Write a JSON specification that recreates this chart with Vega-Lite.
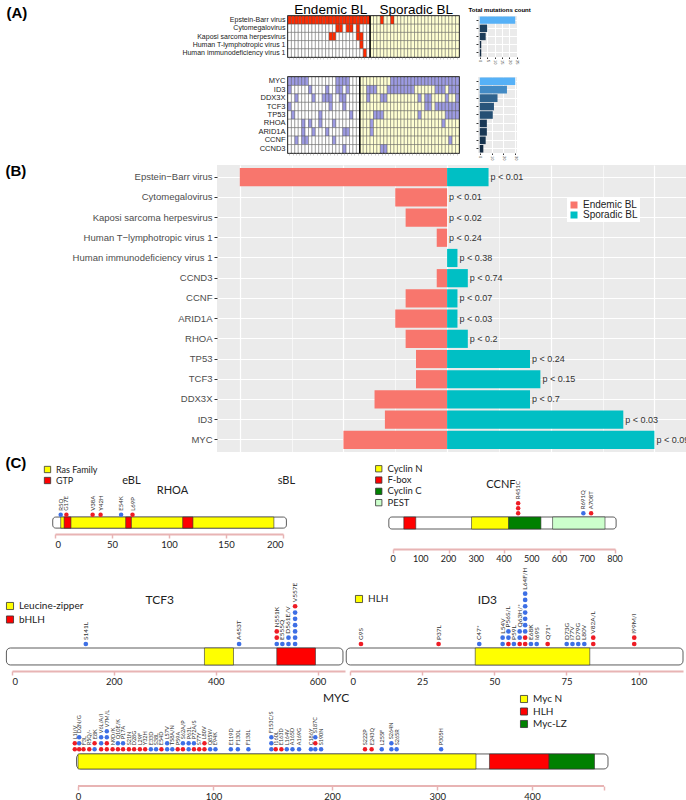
{
"$schema":"https://vega.github.io/schema/vega-lite/v6.json",
"padding":{"left":4,"top":1,"right":0,"bottom":0},
"background":"white",
"datasets":{
"virus":[
{"row":"Epstein-Barr virus","count":24,"cells":["m","m","m","m","m","m","m","m","m","m","m","m","m","m","m","m","m","m","m","m","m","m","m","m","s","s","s","m","s","s","m","s","s","s","s","s","s","s","s","s","s","s","s","s","s","s","s","s","s","s"]},
{"row":"Cytomegalovirus","count":5,"cells":["e","e","e","e","e","e","e","e","e","e","e","e","e","e","m","m","e","m","m","e","m","e","e","e","s","s","s","s","s","s","s","s","s","s","s","s","s","s","s","s","s","s","s","s","s","s","s","s","s","s"]},
{"row":"Kaposi sarcoma herpesvirus","count":4,"cells":["e","e","e","e","e","e","e","e","e","e","e","e","m","m","e","e","e","e","e","e","m","m","e","e","s","s","s","s","s","s","s","s","s","s","s","s","s","s","s","s","s","s","s","s","s","s","s","s","s","s"]},
{"row":"Human T-lymphotropic virus 1","count":1,"cells":["e","e","e","e","e","e","e","e","e","e","e","e","e","e","e","e","e","e","e","e","e","m","e","e","s","s","s","s","s","s","s","s","s","s","s","s","s","s","s","s","s","s","s","s","s","s","s","s","s","s"]},
{"row":"Human immunodeficiency virus 1","count":1,"cells":["e","e","e","e","e","e","e","e","e","e","e","e","e","e","e","e","e","e","e","e","e","e","m","e","s","s","s","s","s","s","s","s","s","s","s","s","s","s","s","s","s","s","s","s","s","s","s","s","s","s"]}],
"genes":[
{"row":"MYC","count":30,"cells":["m","m","m","m","m","m","e","e","e","e","e","e","e","e","m","m","m","m","e","e","e","s","s","s","s","s","s","s","s","s","m","m","m","m","m","m","m","m","m","m","m","m","m","m","m","m","m","m","m","m"]},
{"row":"ID3","count":23,"cells":["m","e","e","e","e","e","m","e","e","e","e","m","e","e","m","m","e","m","e","e","e","s","s","m","m","m","s","s","s","m","m","m","m","m","m","m","m","s","s","s","s","s","s","m","m","m","s","m","m","m"]},
{"row":"DDX3X","count":15,"cells":["e","e","m","e","e","e","e","m","e","e","m","m","m","e","e","m","m","e","e","e","e","s","s","m","s","s","s","m","m","s","s","s","s","s","s","s","s","s","m","s","m","m","s","s","s","s","m","s","s","m"]},
{"row":"TCF3","count":12,"cells":["m","e","e","e","e","e","e","e","e","e","e","e","m","e","e","e","m","e","e","e","e","s","s","s","s","s","s","s","s","s","s","s","s","s","s","s","s","s","s","s","m","m","s","m","m","m","m","m","m","m"]},
{"row":"TP53","count":11,"cells":["e","m","e","e","e","e","e","e","e","m","e","e","e","e","e","e","e","e","m","e","e","s","s","s","s","m","m","m","s","s","s","s","s","s","s","s","s","s","m","s","s","s","s","s","s","s","m","m","m","m"]},
{"row":"RHOA","count":6,"cells":["e","e","e","e","m","e","m","e","e","m","e","e","e","m","e","e","e","e","e","e","e","s","s","s","m","s","s","s","s","s","s","s","s","s","s","s","s","s","s","s","s","s","s","s","s","m","s","s","s","s"]},
{"row":"ARID1A","count":6,"cells":["e","e","e","e","m","e","e","m","e","e","e","m","e","e","e","e","m","m","e","e","e","s","s","s","m","s","s","s","s","s","s","s","s","s","s","s","s","s","s","s","s","s","s","s","s","s","s","s","s","s"]},
{"row":"CCNF","count":5,"cells":["e","e","m","e","m","m","e","e","e","e","e","e","e","m","e","e","e","e","e","e","e","s","s","s","s","s","s","s","s","s","s","s","s","s","s","s","s","s","s","s","s","s","s","s","s","s","s","m","s","s"]},
{"row":"CCND3","count":3,"cells":["e","e","e","e","e","e","e","e","e","e","e","e","e","e","e","e","m","e","e","e","e","s","s","s","s","s","s","m","m","s","s","s","s","s","s","s","s","s","s","s","s","s","s","s","s","s","s","s","s","s"]}],
"freq":[
{"name":"Epstein−Barr virus","Endemic BL":-20,"Sporadic BL":4,"p":"p < 0.01"},
{"name":"Cytomegalovirus","Endemic BL":-5,"Sporadic BL":0,"p":"p < 0.01"},
{"name":"Kaposi sarcoma herpesvirus","Endemic BL":-4,"Sporadic BL":0,"p":"p < 0.02"},
{"name":"Human T−lymphotropic virus 1","Endemic BL":-1,"Sporadic BL":0,"p":"p < 0.24"},
{"name":"Human immunodeficiency virus 1","Endemic BL":0,"Sporadic BL":1,"p":"p < 0.38"},
{"name":"CCND3","Endemic BL":-1,"Sporadic BL":2,"p":"p < 0.74"},
{"name":"CCNF","Endemic BL":-4,"Sporadic BL":1,"p":"p < 0.07"},
{"name":"ARID1A","Endemic BL":-5,"Sporadic BL":1,"p":"p < 0.03"},
{"name":"RHOA","Endemic BL":-4,"Sporadic BL":2,"p":"p < 0.2"},
{"name":"TP53","Endemic BL":-3,"Sporadic BL":8,"p":"p < 0.24"},
{"name":"TCF3","Endemic BL":-3,"Sporadic BL":9,"p":"p < 0.15"},
{"name":"DDX3X","Endemic BL":-7,"Sporadic BL":8,"p":"p < 0.7"},
{"name":"ID3","Endemic BL":-6,"Sporadic BL":17,"p":"p < 0.03"},
{"name":"MYC","Endemic BL":-10,"Sporadic BL":20,"p":"p < 0.09"}],
"rhoaBackbone":[{"start":-2,"end":203}],
"rhoaDomains":[{"domain":"Ras Family","start":5,"end":192},{"domain":"GTP","start":8,"end":14},{"domain":"GTP","start":62,"end":67},{"domain":"GTP","start":112,"end":121}],
"rhoaMuts":[
{"mut":"R5Q","pos":5,"dots":["sBL"]},
{"mut":"G17E","pos":10,"dots":["eBL"]},
{"mut":"V38A","pos":33,"dots":["eBL"]},
{"mut":"Y42H","pos":40,"dots":["eBL"]},
{"mut":"E54K","pos":58,"dots":["sBL"]},
{"mut":"L69P","pos":68,"dots":["eBL"]}],
"ccnfBackbone":[{"start":-15,"end":804}],
"ccnfTicks":[{"aa":0},{"aa":100},{"aa":200},{"aa":300},{"aa":400},{"aa":500},{"aa":600},{"aa":700},{"aa":800}],
"ccnfDomains":[{"domain":"F-box","start":39,"end":82},{"domain":"Cyclin N","start":283,"end":417},{"domain":"Cyclin C","start":417,"end":533},{"domain":"PEST","start":575,"end":764}],
"ccnfMuts":[
{"mut":"R451C","pos":451,"dots":["eBL","eBL","eBL"]},
{"mut":"R691Q","pos":686,"dots":["sBL"]},
{"mut":"A708T","pos":714,"dots":["eBL"]}],
"tcf3Backbone":[{"start":-11,"end":650}],
"tcf3Domains":[{"domain":"Leucine-zipper","start":378,"end":435},{"domain":"bHLH","start":520,"end":596}],
"tcf3Muts":[
{"mut":"S141L","pos":145,"dots":["sBL"]},
{"mut":"A453T","pos":446,"dots":["sBL"]},
{"mut":"N551K","pos":520,"dots":["sBL","eBL","eBL"]},
{"mut":"E555Q","pos":531,"dots":["sBL"]},
{"mut":"D561E/V","pos":543,"dots":["sBL","sBL"]},
{"mut":"V557E","pos":556,"dots":["sBL","sBL","sBL","sBL","sBL","sBL","eBL"]}],
"id3Backbone":[{"start":-1.3,"end":115.4}],
"id3Domains":[{"domain":"HLH","start":43.4,"end":83.1}],
"id3Muts":[
{"mut":"G9S","pos":3.8,"dots":["eBL"]},
{"mut":"P37L","pos":30.7,"dots":["eBL"]},
{"mut":"C47*","pos":44.8,"dots":["sBL"]},
{"mut":"L54V","pos":52.9,"dots":["sBL","sBL"]},
{"mut":"P56S/L","pos":54.9,"dots":["eBL","sBL","sBL"]},
{"mut":"P59L","pos":56.8,"dots":["sBL"]},
{"mut":"Q63H/*","pos":58.8,"dots":["eBL","sBL","sBL"]},
{"mut":"L64F/H","pos":60.7,"dots":["eBL","eBL","sBL","sBL","sBL","sBL","sBL","sBL","sBL"]},
{"mut":"E68K","pos":62.7,"dots":["sBL"]},
{"mut":"I69S","pos":64.7,"dots":["sBL"]},
{"mut":"Q71*","pos":68.5,"dots":["eBL"]},
{"mut":"D73G","pos":75.1,"dots":["sBL"]},
{"mut":"I77V","pos":77.1,"dots":["sBL"]},
{"mut":"D79G","pos":79.1,"dots":["sBL"]},
{"mut":"L80V","pos":81.2,"dots":["sBL"]},
{"mut":"V82A/L","pos":84.3,"dots":["eBL","eBL"]},
{"mut":"I99M/I","pos":98.5,"dots":["eBL","eBL"]}],
"mycBackbone":[{"start":-1,"end":487.8}],
"mycDomains":[{"domain":"Myc N","start":0,"end":339.7},{"domain":"HLH","start":353.9,"end":419.1},{"domain":"Myc-LZ","start":419.1,"end":471.7}],
"mycMuts":[
{"mut":"L1I/V","pos":-2.2,"dots":["eBL","eBL"]},
{"mut":"D2N/G","pos":0.8,"dots":["eBL","sBL","sBL"]},
{"mut":"F3L","pos":3.8,"dots":["eBL"]},
{"mut":"R5Q/-","pos":7.8,"dots":["eBL"]},
{"mut":"E8K","pos":11.5,"dots":["sBL","eBL"]},
{"mut":"V6L/A/I","pos":16.1,"dots":["eBL","sBL","sBL"]},
{"mut":"V7M/L","pos":20.1,"dots":["eBL","eBL","sBL","sBL"]},
{"mut":"N9D/K","pos":24.2,"dots":["eBL"]},
{"mut":"Q10E/K","pos":28.0,"dots":["eBL","sBL"]},
{"mut":"P17A","pos":31.7,"dots":["eBL","sBL"]},
{"mut":"S21N","pos":35.9,"dots":["eBL"]},
{"mut":"D28G","pos":39.7,"dots":["eBL"]},
{"mut":"L29F","pos":43.9,"dots":["eBL"]},
{"mut":"Y32H","pos":47.8,"dots":["eBL"]},
{"mut":"E33D","pos":52.0,"dots":["sBL"]},
{"mut":"S38L","pos":55.9,"dots":["sBL"]},
{"mut":"E54D","pos":59.9,"dots":["eBL"]},
{"mut":"L57V","pos":64.2,"dots":["sBL","sBL"]},
{"mut":"T58A/N","pos":68.1,"dots":["sBL"]},
{"mut":"P59A","pos":72.2,"dots":["eBL"]},
{"mut":"S62A/P","pos":76.2,"dots":["eBL","sBL"]},
{"mut":"P63L","pos":80.6,"dots":["sBL","sBL"]},
{"mut":"P72A/S","pos":84.7,"dots":["eBL","sBL"]},
{"mut":"S77Y","pos":88.8,"dots":["eBL"]},
{"mut":"L80V","pos":92.9,"dots":["eBL","eBL"]},
{"mut":"Q85W","pos":97.4,"dots":["sBL"]},
{"mut":"E94K","pos":101.6,"dots":["sBL"]},
{"mut":"E119D","pos":113.9,"dots":["sBL"]},
{"mut":"F130L","pos":119.6,"dots":["sBL"]},
{"mut":"F138L","pos":128.2,"dots":["sBL"]},
{"mut":"F153C/S","pos":147.3,"dots":["sBL","sBL","sBL"]},
{"mut":"I160L","pos":151.0,"dots":["eBL"]},
{"mut":"E163D","pos":155.8,"dots":["eBL"]},
{"mut":"L164V","pos":160.4,"dots":["sBL"]},
{"mut":"A165D","pos":165.3,"dots":["sBL"]},
{"mut":"A169G","pos":171.0,"dots":["sBL"]},
{"mut":"C186Y","pos":181.3,"dots":["sBL"]},
{"mut":"S187C","pos":185.2,"dots":["sBL","eBL","sBL"]},
{"mut":"S190N","pos":190.3,"dots":["sBL"]},
{"mut":"S222P","pos":230.2,"dots":["eBL"]},
{"mut":"E243Q","pos":236.4,"dots":["eBL"]},
{"mut":"L255F","pos":245.9,"dots":["sBL"]},
{"mut":"S264N","pos":255.1,"dots":["sBL","sBL"]},
{"mut":"S265R","pos":260.1,"dots":["sBL"]},
{"mut":"P305H","pos":303.9,"dots":["sBL"]}]
},
"concat":[
{"concat":[
{"width":1,"height":1,"data":{"values":[]},"mark":"point"},
{
"concat":[
{
"width":171,"height":41,
"view":{"stroke":"#000000","strokeWidth":1.5},
"data":{"name":"virus"},
"layer":[
{"transform":[{"flatten":["cells"],"as":["status"]},{"window":[{"op":"row_number","as":"sample"}],"groupby":["row"]}],
"mark":{"type":"rect","stroke":"#4a4a4a","strokeWidth":0.4},
"encoding":{
"x":{"field":"sample","type":"ordinal","scale":{"domain":[1,2,3,4,5,6,7,8,9,10,11,12,13,14,15,16,17,18,19,20,21,22,23,24,25,26,27,28,29,30,31,32,33,34,35,36,37,38,39,40,41,42,43,44,45,46,47,48,49,50],"paddingInner":0,"paddingOuter":0},
"axis":{"orient":"bottom","labels":false,"ticks":true,"tickSize":2,"tickColor":"#999999","tickWidth":0.5,"domain":false,"grid":false,"title":null}},
"y":{"field":"row","type":"nominal","scale":{"domain":["Epstein-Barr virus","Cytomegalovirus","Kaposi sarcoma herpesvirus","Human T-lymphotropic virus 1","Human immunodeficiency virus 1"],"paddingInner":0,"paddingOuter":0},
"axis":{"ticks":false,"domain":false,"grid":false,"labelFontSize":7,"labelColor":"#222222","labelPadding":3,"title":"(A)","titleAngle":0,"titleAlign":"left","titleBaseline":"top","titleFontSize":15,"titleFontWeight":"bold","titleColor":"#000000","titleX":-282,"titleY":-11}},
"color":{"field":"status","type":"nominal","scale":{"domain":["e","s","m"],"range":["#ffffff","#ffffd2","#ff2a00"]},"legend":null}}},
{"data":{"values":[{"divider":25}]},"mark":{"type":"rule","color":"#000000","strokeWidth":1.5},
"encoding":{"x":{"field":"divider","type":"ordinal","bandPosition":0,
"axis":{"orient":"top","values":[13,38],"labelExpr":"datum.value < 25 ? 'Endemic BL' : 'Sporadic BL'","labelAngle":0,"ticks":false,"domain":false,"grid":false,"labelFontSize":13.5,"labelColor":"#000000","labelPadding":0,"title":null}}}}
],
"resolve":{"axis":{"x":"independent"}}
},
{
"width":39,"height":41,"data":{"name":"virus"},
"view":{"fill":"#ebebeb"},
"title":{"text":"Total mutations count","fontSize":6,"fontWeight":"bold","anchor":"start","offset":3,"dx":-7,"color":"#000000"},
"mark":{"type":"bar"},
"encoding":{
"y":{"field":"row","type":"nominal","sort":null,"scale":{"paddingInner":0.1,"paddingOuter":0.05},"axis":{"labels":false,"ticks":true,"tickSize":2,"tickColor":"#333333","domain":false,"grid":true,"gridColor":"#ffffff","title":null}},
"x":{"field":"count","type":"quantitative","scale":{"domain":[-1.2,25.2],"nice":false,"zero":false},"axis":{"values":[0,5,10,15,20,25],"labelAngle":90,"labelFontSize":4,"labelColor":"#444444","tickSize":1.5,"tickColor":"#333333","labelPadding":1,"grid":true,"gridColor":"#ffffff","domain":false,"title":null}},
"color":{"field":"count","type":"quantitative","scale":{"range":["#132b43","#56b1f7"],"interpolate":"lab"},"legend":null}}
},
{
"width":171,"height":76,
"view":{"stroke":"#000000","strokeWidth":1.5},
"data":{"name":"genes"},
"layer":[
{"transform":[{"flatten":["cells"],"as":["status"]},{"window":[{"op":"row_number","as":"sample"}],"groupby":["row"]}],
"mark":{"type":"rect","stroke":"#4a4a4a","strokeWidth":0.4},
"encoding":{
"x":{"field":"sample","type":"ordinal","scale":{"domain":[1,2,3,4,5,6,7,8,9,10,11,12,13,14,15,16,17,18,19,20,21,22,23,24,25,26,27,28,29,30,31,32,33,34,35,36,37,38,39,40,41,42,43,44,45,46,47,48,49,50],"paddingInner":0,"paddingOuter":0},
"axis":{"orient":"bottom","labels":false,"ticks":true,"tickSize":2,"tickColor":"#999999","tickWidth":0.5,"domain":false,"grid":false,"title":null}},
"y":{"field":"row","type":"nominal","scale":{"domain":["MYC","ID3","DDX3X","TCF3","TP53","RHOA","ARID1A","CCNF","CCND3"],"paddingInner":0,"paddingOuter":0},
"axis":{"ticks":false,"domain":false,"grid":false,"labelFontSize":7.5,"labelColor":"#222222","labelPadding":3,"title":null}},
"color":{"field":"status","type":"nominal","scale":{"domain":["e","s","m"],"range":["#ffffff","#ffffd2","#9d9be3"]},"legend":null}}},
{"data":{"values":[{"divider":22}]},"mark":{"type":"rule","color":"#000000","strokeWidth":1.5},
"encoding":{"x":{"field":"divider","type":"ordinal","bandPosition":0}}}
]
},
{
"width":39,"height":76,"data":{"name":"genes"},
"view":{"fill":"#ebebeb"},
"mark":{"type":"bar"},
"encoding":{
"y":{"field":"row","type":"nominal","sort":null,"scale":{"paddingInner":0.1,"paddingOuter":0.05},"axis":{"labels":false,"ticks":true,"tickSize":2,"tickColor":"#333333","domain":false,"grid":true,"gridColor":"#ffffff","title":null}},
"x":{"field":"count","type":"quantitative","scale":{"domain":[-1.5,31.5],"nice":false,"zero":false},"axis":{"values":[0,10,20,30],"labelAngle":90,"labelFontSize":4,"labelColor":"#444444","tickSize":1.5,"tickColor":"#333333","labelPadding":1,"grid":true,"gridColor":"#ffffff","domain":false,"title":null}},
"color":{"field":"count","type":"quantitative","scale":{"range":["#132b43","#56b1f7"],"interpolate":"lab"},"legend":null}}
}
],
"columns":2,"align":"each","spacing":{"row":11,"column":8},
"resolve":{"scale":{"color":"independent","fill":"independent"},"legend":{"color":"independent","fill":"independent"}}
}
],"columns":2,"align":"each","spacing":0,
"resolve":{"scale":{"color":"independent","fill":"independent"},"legend":{"color":"independent","fill":"independent"}}},
{"concat":[
{"width":1,"height":1,"data":{"values":[]},"mark":"point"},
{
"width":469,"height":287,
"view":{"fill":"#ebebeb"},
"data":{"name":"freq"},
"layer":[
{"transform":[{"fold":["Endemic BL","Sporadic BL"],"as":["group","value"]}],
"mark":{"type":"bar"},
"encoding":{
"y":{"field":"name","type":"nominal","sort":null,"scale":{"paddingInner":0.1,"paddingOuter":0.15},
"axis":{"title":"(B)","titleAngle":0,"titleAlign":"left","titleBaseline":"top","titleX":-212,"titleY":-2,"titleFontSize":15,"titleFontWeight":"bold","titleColor":"#000000","labelFontSize":9.5,"labelColor":"#4d4d4d","tickColor":"#333333","tickSize":3,"domain":false,"grid":true,"gridColor":"#ffffff","gridWidth":1,"labelPadding":2}},
"x":{"field":"value","type":"quantitative","scale":{"domain":[-22.2,23.05],"nice":false,"zero":false},
"axis":{"values":[-20,-15,-10,-5,0,5,10,15,20],"labels":false,"ticks":false,"domain":false,"grid":true,"gridColor":"#ffffff","gridWidth":{"condition":{"test":"abs(datum.value) % 10 == 5","value":0.6},"value":1.2},"title":null}},
"color":{"field":"group","type":"nominal","scale":{"domain":["Endemic BL","Sporadic BL"],"range":["#f8766d","#00bfc4"]},
"legend":{"orient":"none","legendX":350,"legendY":33,"title":null,"symbolType":"square","symbolSize":49,"symbolStrokeWidth":0,"labelFontSize":10,"labelFont":"Liberation Sans","labelColor":"#222222","rowPadding":0,"fillColor":"#ffffff","padding":2}}}},
{"mark":{"type":"text","align":"left","baseline":"middle","dx":2,"fontSize":9,"color":"#333333","clip":true,"font":"Liberation Sans"},
"encoding":{"y":{"field":"name","type":"nominal","sort":null},"x":{"field":"Sporadic BL","type":"quantitative"},"text":{"field":"p"}}}
]
}
],"columns":2,"align":"each","spacing":0,
"resolve":{"scale":{"color":"independent","fill":"independent"},"legend":{"color":"independent","fill":"independent"}}},
{"concat":[
{"width":1,"height":1,"data":{"values":[]},"mark":"point"},
{
"concat":[
{
"width":228,"height":66,
"layer":[
{"data":{"name":"rhoaBackbone"},"mark":{"type":"rect","fill":"#ffffff","stroke":"#333333","strokeWidth":0.8,"cornerRadius":3},
"encoding":{
"x":{"field":"start","type":"quantitative","scale":{"domain":[0,200],"nice":false,"zero":false},
"axis":{"values":[0,50,100,150,200],"domainColor":"#e8b4b4","domainWidth":2,"tickColor":"#e8b4b4","tickWidth":1.5,"tickSize":4,"labelFontSize":9.5,"labelFont":"Lato","labelColor":"#222222","labelPadding":1,"grid":false,"title":null}},
"x2":{"field":"end"},
"y":{"datum":0.62,"type":"quantitative","scale":{"domain":[-2.2,8.78],"nice":false,"zero":false},
"axis":{"title":"(C)","labels":false,"ticks":false,"domain":false,"grid":false,"titleAngle":0,"titleAlign":"left","titleBaseline":"top","titleX":-50,"titleY":-13,"titleFontSize":15,"titleFontWeight":"bold","titleColor":"#000000"}},
"y2":{"datum":-1.22}}},
{"data":{"name":"rhoaDomains"},"mark":{"type":"rect","stroke":"#333333","strokeWidth":0.6},
"encoding":{"x":{"field":"start","type":"quantitative"},"x2":{"field":"end"},"y":{"datum":0.62,"type":"quantitative"},"y2":{"datum":-1.22},
"fill":{"field":"domain","type":"nominal","scale":{"domain":["Ras Family","GTP"],"range":["#ffff00","#ff0000"]},
"legend":{"orient":"none","legendX":-12,"legendY":-3,"title":null,"symbolType":"square","symbolSize":40,"symbolStrokeColor":"#333333","symbolStrokeWidth":0.8,"labelFontSize":9,"labelFont":"Lato","labelColor":"#222222","rowPadding":0,"padding":0}}}},
{"data":{"name":"rhoaMuts"},"transform":[{"flatten":["dots"],"as":["type"]},{"window":[{"op":"row_number","as":"level"}],"groupby":["mut"]}],
"mark":{"type":"circle","size":20,"opacity":1},
"encoding":{"x":{"field":"pos","type":"quantitative"},"y":{"field":"level","type":"quantitative"},"color":{"field":"type","type":"nominal","scale":{"domain":["eBL","sBL"],"range":["#ee1c25","#3d6fe5"]},"legend":null}}},
{"data":{"name":"rhoaMuts"},"transform":[{"flatten":["dots"],"as":["type"]},{"aggregate":[{"op":"count","as":"top"}],"groupby":["mut","pos"]}],
"mark":{"type":"text","angle":270,"align":"left","baseline":"middle","dx":4,"fontSize":6,"font":"Lato","color":"#333333"},
"encoding":{"x":{"field":"pos","type":"quantitative"},"y":{"field":"top","type":"quantitative"},"text":{"field":"mut"}}},
{"data":{"values":[{"label":"RHOA"}]},"mark":{"type":"text","fontSize":11,"font":"Lato","color":"#222222"},"encoding":{"x":{"datum":103,"type":"quantitative"},"y":{"datum":5,"type":"quantitative"},"text":{"field":"label"}}},
{"data":{"values":[{"label":"eBL"}]},"mark":{"type":"text","fontSize":11,"font":"Lato","color":"#222222"},"encoding":{"x":{"datum":67,"type":"quantitative"},"y":{"datum":6.6,"type":"quantitative"},"text":{"field":"label"}}},
{"data":{"values":[{"label":"sBL"}]},"mark":{"type":"text","fontSize":11,"font":"Lato","color":"#222222"},"encoding":{"x":{"datum":203,"type":"quantitative"},"y":{"datum":6.6,"type":"quantitative"},"text":{"field":"label"}}}
]
},
{
"width":222,"height":81,
"layer":[
{"data":{"name":"ccnfBackbone"},"mark":{"type":"rect","fill":"#ffffff","stroke":"#333333","strokeWidth":0.8,"cornerRadius":3},
"encoding":{
"x":{"field":"start","type":"quantitative","scale":{"domain":[0,800],"nice":false,"zero":false},
"axis":{"values":[0,100,200,300,400,500,600,700,800],"labels":false,"domainColor":"#e8b4b4","domainWidth":2,"tickColor":"#e8b4b4","tickWidth":1.5,"tickSize":4,"grid":false,"title":null}},
"x2":{"field":"end"},
"y":{"datum":0.26,"type":"quantitative","scale":{"domain":[-6.14,10.06],"nice":false,"zero":false},"axis":null},
"y2":{"datum":-2.14}}},
{"data":{"name":"ccnfTicks"},"mark":{"type":"text","baseline":"top","dy":6,"fontSize":9,"font":"Lato","color":"#222222"},
"encoding":{"x":{"field":"aa","type":"quantitative"},"y":{"datum":-6.14,"type":"quantitative"},"text":{"field":"aa","type":"quantitative"}}},
{"data":{"name":"ccnfDomains"},"mark":{"type":"rect","stroke":"#333333","strokeWidth":0.6},
"encoding":{"x":{"field":"start","type":"quantitative"},"x2":{"field":"end"},"y":{"datum":0.26,"type":"quantitative"},"y2":{"datum":-2.14},
"fill":{"field":"domain","type":"nominal","scale":{"domain":["Cyclin N","F-box","Cyclin C","PEST"],"range":["#ffff00","#ff0000","#008000","#ccffcc"]},
"legend":{"orient":"none","legendX":-19,"legendY":-4,"title":null,"symbolType":"square","symbolSize":40,"symbolStrokeColor":"#333333","symbolStrokeWidth":0.8,"labelFontSize":9.5,"labelFont":"Lato","labelColor":"#222222","rowPadding":0.3,"padding":0}}}},
{"data":{"name":"ccnfMuts"},"transform":[{"flatten":["dots"],"as":["type"]},{"window":[{"op":"row_number","as":"level"}],"groupby":["mut"]}],
"mark":{"type":"circle","size":20,"opacity":1},
"encoding":{"x":{"field":"pos","type":"quantitative"},"y":{"field":"level","type":"quantitative"},"color":{"field":"type","type":"nominal","scale":{"domain":["eBL","sBL"],"range":["#ee1c25","#3d6fe5"]},"legend":null}}},
{"data":{"name":"ccnfMuts"},"transform":[{"flatten":["dots"],"as":["type"]},{"aggregate":[{"op":"count","as":"top"}],"groupby":["mut","pos"]}],
"mark":{"type":"text","angle":270,"align":"left","baseline":"middle","dx":4,"fontSize":6,"font":"Lato","color":"#333333"},
"encoding":{"x":{"field":"pos","type":"quantitative"},"y":{"field":"top","type":"quantitative"},"text":{"field":"mut"}}},
{"data":{"values":[{"label":"CCNF"}]},"mark":{"type":"text","fontSize":11,"font":"Lato","color":"#222222"},"encoding":{"x":{"datum":389,"type":"quantitative"},"y":{"datum":6.7,"type":"quantitative"},"text":{"field":"label"}}}
]
}
],
"columns":2,"align":"each","spacing":78,
"resolve":{"scale":{"color":"independent","fill":"independent"},"legend":{"color":"independent","fill":"independent"}}
}
],"columns":2,"align":"each","spacing":0,
"resolve":{"scale":{"color":"independent","fill":"independent"},"legend":{"color":"independent","fill":"independent"}}},
{"concat":[
{"width":1,"height":1,"data":{"values":[]},"mark":"point"},
{
"concat":[
{
"width":333,"height":83,
"layer":[
{"data":{"name":"tcf3Backbone"},"mark":{"type":"rect","fill":"#ffffff","stroke":"#333333","strokeWidth":0.8,"cornerRadius":4},
"encoding":{
"x":{"field":"start","type":"quantitative","scale":{"domain":[0,654],"nice":false,"zero":false},
"axis":{"values":[0,200,400,600],"domainColor":"#e8b4b4","domainWidth":2,"tickColor":"#e8b4b4","tickWidth":1.5,"tickSize":4,"labelFontSize":9.5,"labelFont":"Lato","labelColor":"#222222","labelPadding":1,"grid":false,"title":null}},
"x2":{"field":"end"},
"y":{"datum":0.365,"type":"quantitative","scale":{"domain":[-3.29,9.9],"nice":false,"zero":false},"axis":null},
"y2":{"datum":-2.33}}},
{"data":{"name":"tcf3Domains"},"mark":{"type":"rect","stroke":"#333333","strokeWidth":0.6},
"encoding":{"x":{"field":"start","type":"quantitative"},"x2":{"field":"end"},"y":{"datum":0.365,"type":"quantitative"},"y2":{"datum":-2.33},
"fill":{"field":"domain","type":"nominal","scale":{"domain":["Leucine-zipper","bHLH"],"range":["#ffff00","#ff0000"]},
"legend":{"orient":"none","legendX":-7,"legendY":13,"title":null,"symbolType":"square","symbolSize":50,"symbolStrokeColor":"#333333","symbolStrokeWidth":0.8,"labelFontSize":10,"labelFont":"Lato","labelColor":"#222222","rowPadding":1.5,"padding":0}}}},
{"data":{"name":"tcf3Muts"},"transform":[{"flatten":["dots"],"as":["type"]},{"window":[{"op":"row_number","as":"level"}],"groupby":["mut"]}],
"mark":{"type":"circle","size":22,"opacity":1},
"encoding":{"x":{"field":"pos","type":"quantitative"},"y":{"field":"level","type":"quantitative"},"color":{"field":"type","type":"nominal","scale":{"domain":["eBL","sBL"],"range":["#ee1c25","#3d6fe5"]},"legend":null}}},
{"data":{"name":"tcf3Muts"},"transform":[{"flatten":["dots"],"as":["type"]},{"aggregate":[{"op":"count","as":"top"}],"groupby":["mut","pos"]}],
"mark":{"type":"text","angle":270,"align":"left","baseline":"middle","dx":4,"fontSize":6.5,"font":"Lato","color":"#333333"},
"encoding":{"x":{"field":"pos","type":"quantitative"},"y":{"field":"top","type":"quantitative"},"text":{"field":"mut"}}},
{"data":{"values":[{"label":"TCF3"}]},"mark":{"type":"text","fontSize":12,"font":"Lato","color":"#222222"},"encoding":{"x":{"datum":290,"type":"quantitative"},"y":{"datum":8,"type":"quantitative"},"text":{"field":"label"}}}
]
},
{
"width":333,"height":83,
"layer":[
{"data":{"name":"id3Backbone"},"mark":{"type":"rect","fill":"#ffffff","stroke":"#333333","strokeWidth":0.8,"cornerRadius":4},
"encoding":{
"x":{"field":"start","type":"quantitative","scale":{"domain":[0,115.4],"nice":false,"zero":false},
"axis":{"values":[0,25,50,75,100],"domainColor":"#e8b4b4","domainWidth":2,"tickColor":"#e8b4b4","tickWidth":1.5,"tickSize":4,"labelFontSize":9.5,"labelFont":"Lato","labelColor":"#222222","labelPadding":1,"grid":false,"title":null}},
"x2":{"field":"end"},
"y":{"datum":0.365,"type":"quantitative","scale":{"domain":[-3.29,9.9],"nice":false,"zero":false},"axis":null},
"y2":{"datum":-2.33}}},
{"data":{"name":"id3Domains"},"mark":{"type":"rect","stroke":"#333333","strokeWidth":0.6},
"encoding":{"x":{"field":"start","type":"quantitative"},"x2":{"field":"end"},"y":{"datum":0.365,"type":"quantitative"},"y2":{"datum":-2.33},
"fill":{"field":"domain","type":"nominal","scale":{"domain":["HLH"],"range":["#ffff00"]},
"legend":{"orient":"none","legendX":4,"legendY":6,"title":null,"symbolType":"square","symbolSize":50,"symbolStrokeColor":"#333333","symbolStrokeWidth":0.8,"labelFontSize":10,"labelFont":"Lato","labelColor":"#222222","padding":0}}}},
{"data":{"name":"id3Muts"},"transform":[{"flatten":["dots"],"as":["type"]},{"window":[{"op":"row_number","as":"level"}],"groupby":["mut"]}],
"mark":{"type":"circle","size":22,"opacity":1},
"encoding":{"x":{"field":"pos","type":"quantitative"},"y":{"field":"level","type":"quantitative"},"color":{"field":"type","type":"nominal","scale":{"domain":["eBL","sBL"],"range":["#ee1c25","#3d6fe5"]},"legend":null}}},
{"data":{"name":"id3Muts"},"transform":[{"flatten":["dots"],"as":["type"]},{"aggregate":[{"op":"count","as":"top"}],"groupby":["mut","pos"]}],
"mark":{"type":"text","angle":270,"align":"left","baseline":"middle","dx":4,"fontSize":6.5,"font":"Lato","color":"#333333"},
"encoding":{"x":{"field":"pos","type":"quantitative"},"y":{"field":"top","type":"quantitative"},"text":{"field":"mut"}}},
{"data":{"values":[{"label":"ID3"}]},"mark":{"type":"text","fontSize":12,"font":"Lato","color":"#222222"},"encoding":{"x":{"datum":47.6,"type":"quantitative"},"y":{"datum":8,"type":"quantitative"},"text":{"field":"label"}}}
]
}
],
"columns":2,"align":"each","spacing":0,
"resolve":{"scale":{"color":"independent","fill":"independent"},"legend":{"color":"independent","fill":"independent"}}
}
],"columns":2,"align":"each","spacing":0,
"resolve":{"scale":{"color":"independent","fill":"independent"},"legend":{"color":"independent","fill":"independent"}}},
{"concat":[
{"width":1,"height":1,"data":{"values":[]},"mark":"point"},
{
"width":601,"height":97,
"layer":[
{"data":{"name":"mycBackbone"},"mark":{"type":"rect","fill":"#ffffff","stroke":"#333333","strokeWidth":0.8,"cornerRadius":4},
"encoding":{
"x":{"field":"start","type":"quantitative","scale":{"type":"symlog","constant":650,"domain":[-52.1,485.4],"nice":false,"zero":false},
"axis":{"values":[0,100,200,300,400,483],"labelExpr":"datum.value > 450 ? '' : datum.label","domain":false,"tickColor":"#e8b4b4","tickWidth":1.5,"tickSize":4,"labelFontSize":9.5,"labelFont":"Lato","labelColor":"#222222","labelPadding":1,"grid":false,"title":null}},
"x2":{"field":"end"},
"y":{"datum":0.22,"type":"quantitative","scale":{"domain":[-5.12,11.05],"nice":false,"zero":false},"axis":null},
"y2":{"datum":-2.28}}},
{"data":{"values":[{}]},"mark":{"type":"rule","color":"#e8b4b4","strokeWidth":2},
"encoding":{"x":{"datum":0,"type":"quantitative"},"x2":{"datum":483},"y":{"datum":-5.12,"type":"quantitative"}}},
{"data":{"name":"mycDomains"},"mark":{"type":"rect","stroke":"#333333","strokeWidth":0.6},
"encoding":{"x":{"field":"start","type":"quantitative"},"x2":{"field":"end"},"y":{"datum":0.22,"type":"quantitative"},"y2":{"datum":-2.28},
"fill":{"field":"domain","type":"nominal","scale":{"domain":["Myc N","HLH","Myc-LZ"],"range":["#ffff00","#ff0000","#008000"]},
"legend":{"orient":"none","legendX":514,"legendY":5,"title":null,"symbolType":"square","symbolSize":50,"symbolStrokeColor":"#333333","symbolStrokeWidth":0.8,"labelFontSize":10,"labelFont":"Lato","labelColor":"#222222","rowPadding":0.5,"padding":0}}}},
{"data":{"name":"mycMuts"},"transform":[{"flatten":["dots"],"as":["type"]},{"window":[{"op":"row_number","as":"level"}],"groupby":["mut"]}],
"mark":{"type":"circle","size":20,"opacity":1},
"encoding":{"x":{"field":"pos","type":"quantitative"},"y":{"field":"level","type":"quantitative"},"color":{"field":"type","type":"nominal","scale":{"domain":["eBL","sBL"],"range":["#ee1c25","#3d6fe5"]},"legend":null}}},
{"data":{"name":"mycMuts"},"transform":[{"flatten":["dots"],"as":["type"]},{"aggregate":[{"op":"count","as":"top"}],"groupby":["mut","pos"]}],
"mark":{"type":"text","angle":270,"align":"left","baseline":"middle","dx":4,"fontSize":5.5,"font":"Lato","color":"#333333"},
"encoding":{"x":{"field":"pos","type":"quantitative"},"y":{"field":"top","type":"quantitative"},"text":{"field":"mut"}}},
{"data":{"values":[{"label":"MYC"}]},"mark":{"type":"text","fontSize":12,"font":"Lato","color":"#222222"},"encoding":{"x":{"datum":203.7,"type":"quantitative"},"y":{"datum":9.55,"type":"quantitative"},"text":{"field":"label"}}}
]
}
],"columns":2,"align":"each","spacing":0,
"resolve":{"scale":{"color":"independent","fill":"independent"},"legend":{"color":"independent","fill":"independent"}}}
],
"columns":1,"align":"none","spacing":3,
"resolve":{"scale":{"color":"independent","fill":"independent"},"legend":{"color":"independent","fill":"independent"}},
"config":{
"view":{"stroke":null},
"font":"Liberation Sans",
"axis":{"labelFont":"Liberation Sans","titleFont":"Liberation Sans"},
"title":{"font":"Liberation Sans"},
"text":{"font":"Lato"}
}
}
